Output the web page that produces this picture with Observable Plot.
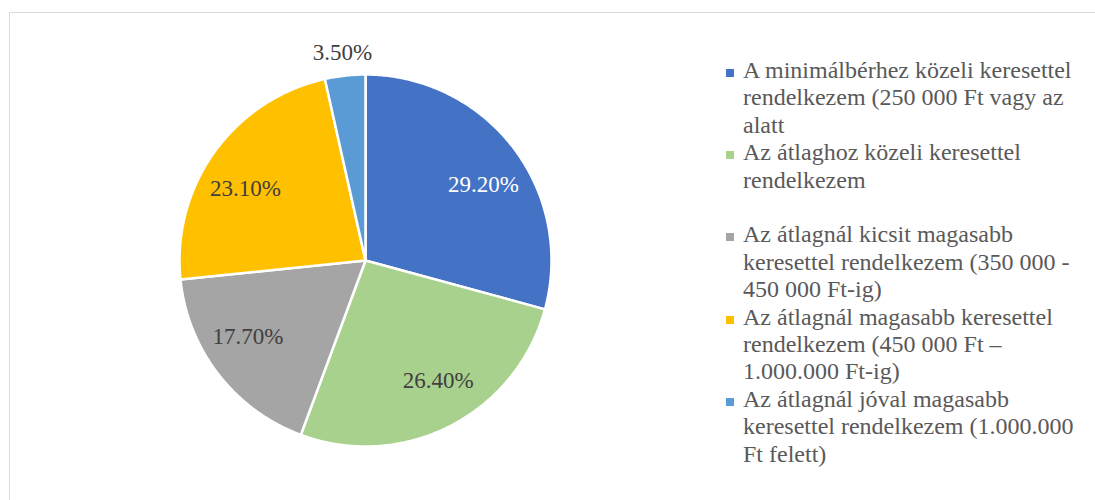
<!DOCTYPE html>
<html>
<head>
<meta charset="utf-8">
<script src="https://cdn.jsdelivr.net/npm/d3@7"></script>
<script src="https://cdn.jsdelivr.net/npm/@observablehq/plot@0.6"></script>
<style>
  html, body { margin: 0; padding: 0; background: #fff; width: 1095px; height: 500px; overflow: hidden; }
  #frame { position: absolute; left: 9px; top: 12px; width: 1200px; height: 600px;
           border-top: 1px solid #d9d9d9; border-left: 1px solid #d9d9d9; box-sizing: border-box; }
  #chart { position: absolute; left: 9px; top: 12px; }
  #legend { position: absolute; left: 726px; top: 57px; width: 360px;
            font-family: "Liberation Serif", "Times New Roman", serif; font-size: 24px;
            line-height: 27.4px; color: #595959; }
  .item { display: flex; align-items: flex-start; }
  .sw { width: 8px; height: 8px; flex: none; margin-top: 12px; margin-right: 9px; }
  .txt { width: 340px; }
  .gap { height: 27.4px; }
</style>
</head>
<body>
<div id="frame"></div>
<div id="chart"></div>
<div id="legend"></div>
<script>
const categories = [
  "A minimálbérhez közeli keresettel rendelkezem (250 000 Ft vagy az alatt",
  "Az átlaghoz közeli keresettel rendelkezem",
  "Az átlagnál kicsit magasabb keresettel rendelkezem (350 000 - 450 000 Ft-ig)",
  "Az átlagnál magasabb keresettel rendelkezem (450 000 Ft – 1.000.000 Ft-ig)",
  "Az átlagnál jóval magasabb keresettel rendelkezem (1.000.000 Ft felett)"
];
const values = [29.2, 26.4, 17.7, 23.1, 3.5];
const colors = ["#4472C4", "#A9D18E", "#A5A5A5", "#FFC000", "#5B9BD5"];
const labelColors = ["#ffffff", "#404040", "#404040", "#404040", "#404040"];

const W = 712, H = 488;
const R = 186;
const data = categories.map((c, i) => ({category: c, value: values[i], color: colors[i], labelColor: labelColors[i]}));
const arcs = d3.pie().sort(null).value(d => d.value)(data);

// polygon points for each slice (angle 0 at top, clockwise)
const pts = [];
arcs.forEach(a => {
  const c = a.data.category;
  pts.push({category: c, x: 0, y: 0});
  const n = Math.max(2, Math.ceil((a.endAngle - a.startAngle) / 0.01));
  for (let k = 0; k <= n; k++) {
    const t = a.startAngle + (a.endAngle - a.startAngle) * k / n;
    pts.push({category: c, x: R * Math.sin(t), y: R * Math.cos(t)});
  }
});

// best-fit style label placement: wide labels drift toward the horizontal
const labelPts = arcs.map(a => {
  const mid = (a.startAngle + a.endAngle) / 2;
  const share = a.data.value / d3.sum(values);
  const inside = share >= 0.05;
  const ang = inside ? mid + (5 * Math.PI / 180) * Math.sin(2 * mid) : mid;
  const r = inside ? R * 0.753 : R + 23;
  return {x: r * Math.sin(ang), y: r * Math.cos(ang), text: d3.format(".2f")(a.data.value) + "%", color: a.data.labelColor};
});

const font = "Liberation Serif, Times New Roman, serif";
const plot = Plot.plot({
  width: W, height: H, margin: 0,
  x: {domain: [-356, 356], axis: null},
  y: {domain: [-240, 248], axis: null},
  color: {domain: categories, range: colors},
  style: {background: "transparent"},
  marks: [
    Plot.line(pts, {x: "x", y: "y", z: "category", fill: "category", stroke: "white", strokeWidth: 2.5, curve: "linear-closed"}),
    Plot.text(labelPts.filter(d => d.color === "#ffffff"), {x: "x", y: "y", text: "text", fill: "#ffffff", fontSize: 23, fontFamily: font}),
    Plot.text(labelPts.filter(d => d.color !== "#ffffff"), {x: "x", y: "y", text: "text", fill: "#404040", fontSize: 23, fontFamily: font})
  ]
});
document.getElementById("chart").appendChild(plot);

const legend = document.getElementById("legend");
data.forEach((d, i) => {
  const item = document.createElement("div");
  item.className = "item";
  const sw = document.createElement("div");
  sw.className = "sw";
  sw.style.background = d.color;
  const tx = document.createElement("div");
  tx.className = "txt";
  tx.textContent = d.category;
  item.appendChild(sw); item.appendChild(tx);
  legend.appendChild(item);
  if (i === 1) { const g = document.createElement("div"); g.className = "gap"; legend.appendChild(g); }
});
</script>
</body>
</html>
